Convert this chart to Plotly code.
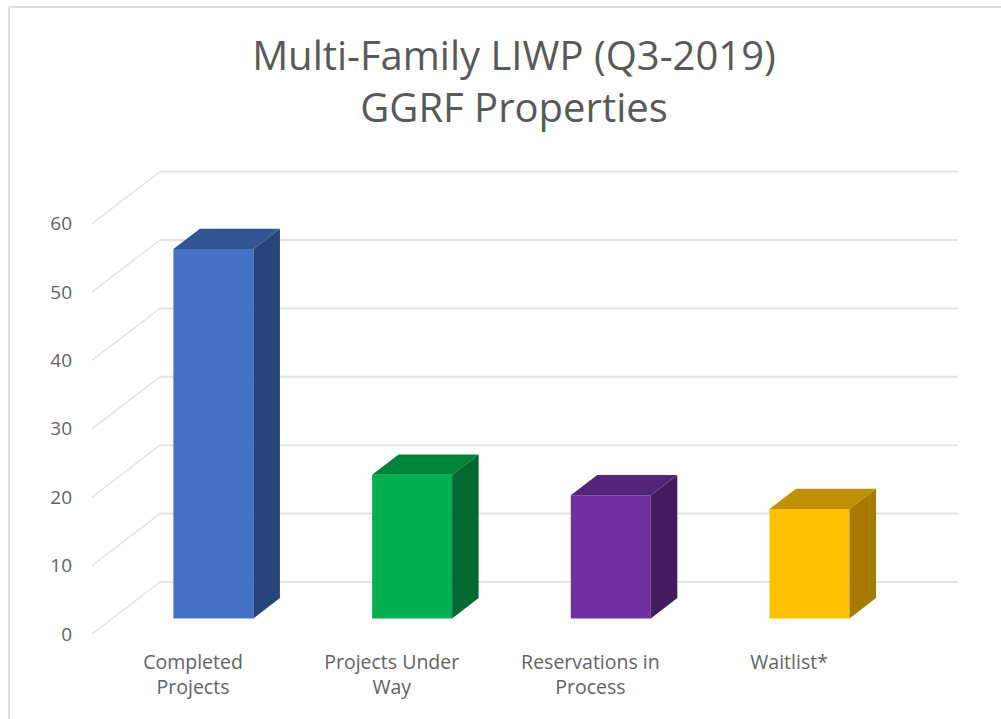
import plotly.graph_objects as go

categories = ["Completed<br>Projects", "Projects Under<br>Way", "Reservations in<br>Process", "Waitlist*"]
values = [54, 21, 18, 16]
front_colors = ["#4472c4", "#00b050", "#7030a0", "#ffc000"]
top_colors = ["#335593", "#00843c", "#542478", "#bf9000"]
side_colors = ["#27457a", "#006a30", "#431d60", "#a67c00"]
tick_values = [0, 10, 20, 30, 40, 50, 60]
title_lines = ["Multi-Family LIWP (Q3-2019)", "GGRF Properties"]

W, H = 1001, 719
L, R, T, B = 92, 958, 150, 634
PX_X = 198.7   # pixels per category
PX_Y = 6.84    # pixels per value unit
DX = 68 / PX_X  # wall depth in x units
DY = 52 / PX_Y  # wall depth in y units
D1, D2 = 0.30, 0.69  # bar's depth span
HALF = 40 / PX_X
XMIN = -(193 - L) / PX_X
XMAX = XMIN + (R - L) / PX_X
YMAX = (B - T) / PX_Y
GRID = "#e3e3e3"
TEXT = "#636363"

fig = go.Figure()
xs = list(range(len(values)))

fig.add_trace(go.Bar(
    x=[i + D1 * DX for i in xs], y=values, base=[D1 * DY] * len(values),
    width=2 * HALF, marker=dict(color=front_colors, line_width=0), showlegend=False,
))

for i, v in zip(xs, values):
    xl = i + D1 * DX - HALF
    xr = i + D1 * DX + HALF
    y0 = D1 * DY
    ddx = (D2 - D1) * DX
    ddy = (D2 - D1) * DY
    fig.add_trace(go.Scatter(
        x=[xl, xr, xr + ddx, xl + ddx, xl], y=[y0 + v, y0 + v, y0 + v + ddy, y0 + v + ddy, y0 + v],
        mode="lines", fill="toself", fillcolor=top_colors[i], line=dict(width=0), showlegend=False,
        hoverinfo="skip"))
    fig.add_trace(go.Scatter(
        x=[xr, xr + ddx, xr + ddx, xr, xr], y=[y0, y0 + ddy, y0 + v + ddy, y0 + v, y0],
        mode="lines", fill="toself", fillcolor=side_colors[i], line=dict(width=0), showlegend=False,
        hoverinfo="skip"))

shapes = []
for t in tick_values:
    shapes.append(dict(type="line", xref="x", yref="y", layer="below", x0=XMIN, y0=t, x1=XMIN + DX, y1=t + DY,
                       line=dict(color=GRID, width=1.5)))
    shapes.append(dict(type="line", xref="x", yref="y", layer="below", x0=XMIN + DX, y0=t + DY, x1=XMAX, y1=t + DY,
                       line=dict(color=GRID, width=2)))
# chart frame: left and top edges
fx = (9 - L) / (R - L)
fy = (B - 7) / (B - T)
fx1 = (W - L) / (R - L)
fy0 = (B - H) / (B - T)
shapes.append(dict(type="line", xref="paper", yref="paper", x0=fx, y0=fy, x1=fx1, y1=fy, line=dict(color="#dedede", width=2)))
shapes.append(dict(type="line", xref="paper", yref="paper", x0=fx, y0=fy, x1=fx, y1=fy0, line=dict(color="#dedede", width=2)))

fig.update_layout(
    width=W, height=H,
    margin=dict(l=L, r=W - R, t=T, b=H - B, pad=0, autoexpand=False),
    paper_bgcolor="white", plot_bgcolor="rgba(0,0,0,0)",
    showlegend=False, shapes=shapes,
    font=dict(family="Open Sans", color=TEXT),
    title=dict(text="<br>".join(title_lines), x=514 / W, xanchor="center", y=1 - 70 / H, yanchor="top",
               font=dict(family="Open Sans", size=40, color="#595959")),
    xaxis=dict(range=[XMIN, XMAX], tickmode="array", tickvals=xs, ticktext=categories, showgrid=False,
               zeroline=False, showline=False, ticks="", ticklabelstandoff=14, tickangle=0,
               tickfont=dict(family="Open Sans", size=19.5, color=TEXT)),
    yaxis=dict(range=[0, YMAX], tickmode="array", tickvals=tick_values, showgrid=False,
               zeroline=False, showline=False, ticks="", ticklabelstandoff=19,
               tickfont=dict(family="Open Sans", size=19, color=TEXT)),
)
fig.write_html("out.html", config={"displayModeBar": False},
               post_script="document.body.style.margin='0';document.body.style.overflow='hidden';")
